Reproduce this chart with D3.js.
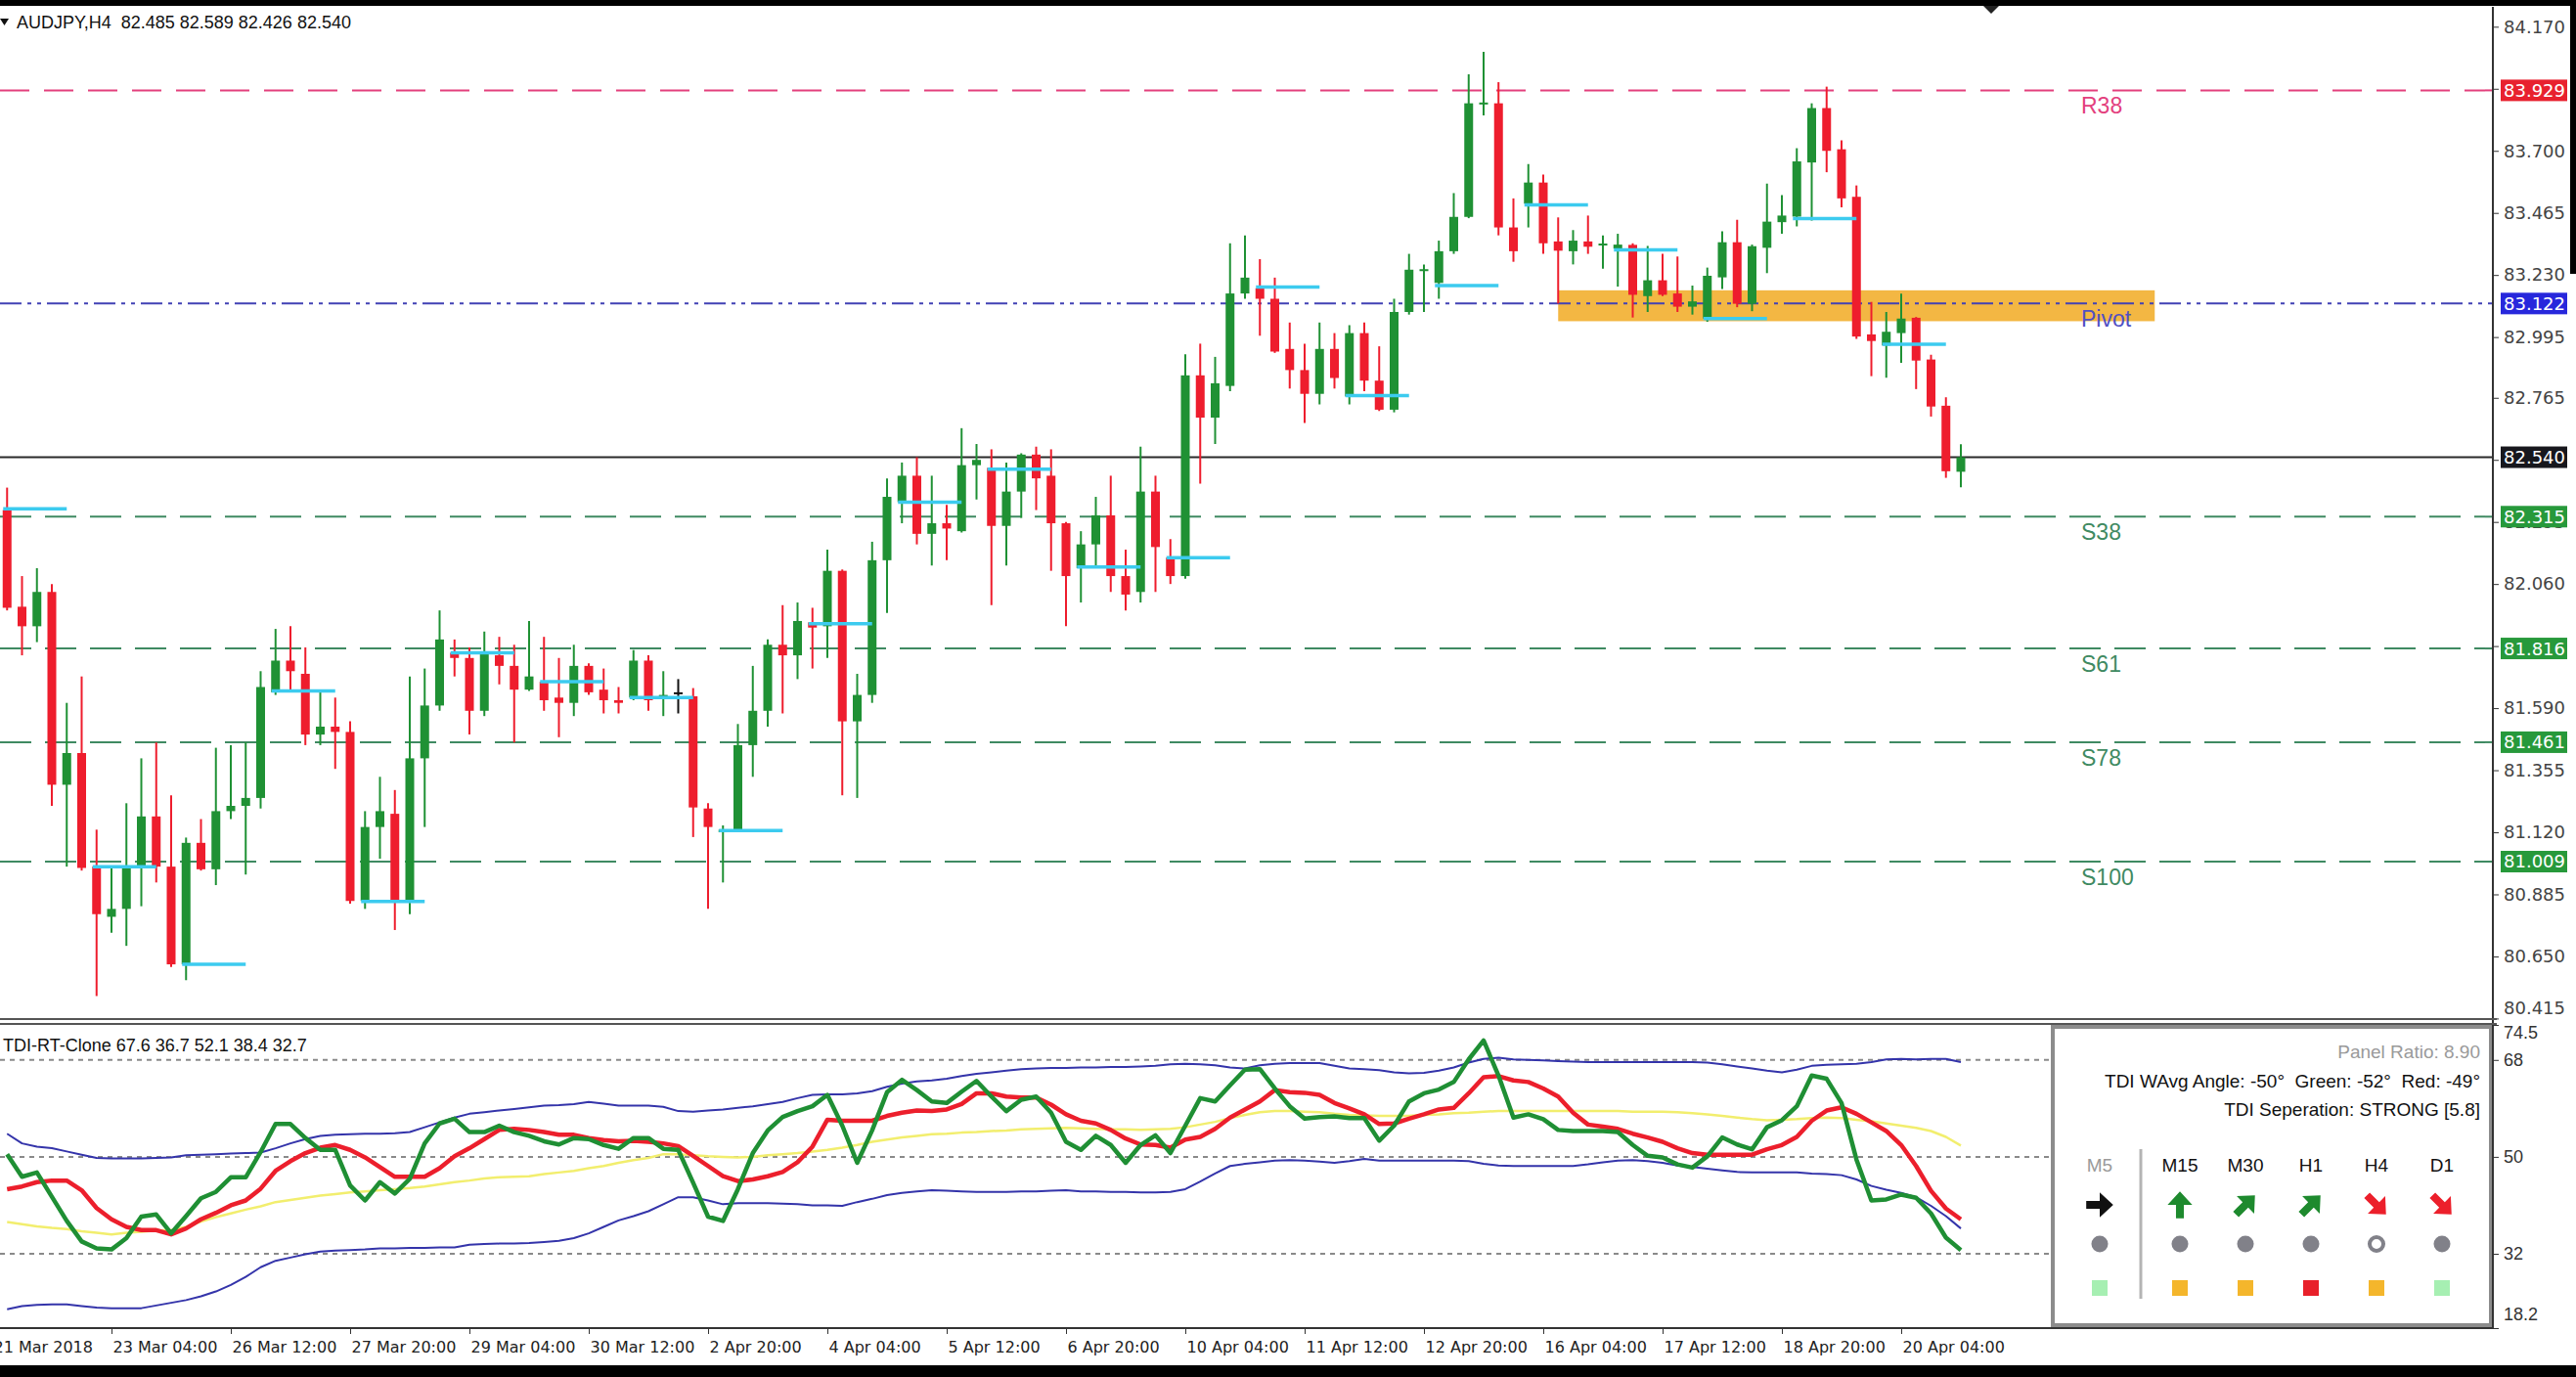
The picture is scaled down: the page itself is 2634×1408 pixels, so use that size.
<!DOCTYPE html>
<html>
<head>
<meta charset="utf-8">
<script src="https://cdn.jsdelivr.net/npm/d3@7"></script>
<style>
  body { margin: 0; background: #fff; }
  svg { display: block; }
  text { white-space: pre; }
</style>
</head>
<body>
<svg id="chart"></svg>
<script>
// AUDJPY H4 bars, first bar = 22 Mar 2018 00:00, last = 20 Apr 2018 20:00
const barOpen = [
  82.34, 81.974, 81.90, 82.03, 81.30, 81.42, 80.99, 80.80, 80.83, 80.99,
  81.18, 80.99, 80.62, 81.08, 80.98, 81.20, 81.22, 81.25, 81.65, 81.77,
  81.72, 81.49, 81.52, 81.50, 80.86, 81.14, 81.19, 80.86, 81.40, 81.60,
  81.80, 81.78, 81.58, 81.79, 81.75, 81.66, 81.69, 81.63, 81.61, 81.75,
  81.66, 81.62, 81.63, 81.77, 81.63, 81.65, 81.635, 81.21, 81.12, 81.13,
  81.45, 81.58, 81.83, 81.79, 81.915, 81.90, 82.11, 81.54, 81.64, 82.15,
  82.37, 82.47, 82.25, 82.29, 82.26, 82.51, 82.50, 82.28, 82.41, 82.55,
  82.47, 82.29, 82.12, 82.21, 82.32, 82.09, 82.03, 82.41, 82.16, 82.09,
  82.85, 82.69, 82.81, 83.16, 83.18, 83.14, 82.95, 82.87, 82.78, 82.95,
  82.77, 83.01, 82.83, 82.72, 83.09, 83.248, 83.20, 83.32, 83.45, 83.877,
  83.88, 83.41, 83.50, 83.58, 83.357, 83.32, 83.357, 83.344, 83.33, 83.344,
  83.15, 83.21, 83.16, 83.11, 83.065, 83.221, 83.354, 83.121, 83.333, 83.43,
  83.451, 83.656, 83.862, 83.706, 83.526, 83.005, 82.963, 83.01, 83.068, 82.91,
  82.735, 82.485
];
const barHigh = [
  82.425, 82.09, 82.12, 82.06, 81.61, 81.71, 81.13, 80.99, 81.23, 81.40,
  81.46, 81.26, 81.10, 81.17, 81.44, 81.45, 81.46, 81.73, 81.89, 81.90,
  81.82, 81.66, 81.63, 81.54, 81.20, 81.33, 81.28, 81.71, 81.74, 81.96,
  81.85, 81.82, 81.88, 81.86, 81.83, 81.92, 81.86, 81.78, 81.83, 81.76,
  81.74, 81.67, 81.81, 81.79, 81.73, 81.70, 81.666, 81.23, 81.146, 81.53,
  81.75, 81.85, 81.98, 81.99, 81.97, 82.19, 82.115, 81.72, 82.22, 82.46,
  82.52, 82.54, 82.47, 82.36, 82.65, 82.59, 82.57, 82.52, 82.555, 82.58,
  82.57, 82.295, 82.26, 82.39, 82.47, 82.19, 82.58, 82.47, 82.23, 82.93,
  82.97, 82.92, 83.35, 83.38, 83.29, 83.22, 83.05, 82.97, 83.05, 83.01,
  83.04, 83.05, 82.96, 83.14, 83.31, 83.27, 83.36, 83.54, 83.99, 84.075,
  83.96, 83.52, 83.65, 83.61, 83.448, 83.40, 83.455, 83.38, 83.386, 83.35,
  83.34, 83.31, 83.30, 83.19, 83.258, 83.395, 83.439, 83.345, 83.576, 83.532,
  83.71, 83.88, 83.943, 83.74, 83.569, 83.128, 83.09, 83.159, 83.071, 82.928,
  82.767, 82.589
];
const barLow = [
  81.96, 81.79, 81.84, 81.22, 80.99, 80.975, 80.50, 80.74, 80.69, 80.84,
  80.93, 80.61, 80.56, 80.975, 80.92, 81.17, 80.96, 81.21, 81.64, 81.66,
  81.45, 81.45, 81.36, 80.85, 80.83, 81.02, 80.75, 80.81, 81.14, 81.58,
  81.71, 81.49, 81.56, 81.68, 81.46, 81.655, 81.58, 81.48, 81.56, 81.64,
  81.57, 81.57, 81.62, 81.58, 81.56, 81.57, 81.102, 80.83, 80.93, 81.125,
  81.33, 81.52, 81.57, 81.70, 81.74, 81.78, 81.26, 81.25, 81.61, 81.95,
  82.29, 82.21, 82.13, 82.15, 82.255, 82.38, 81.98, 82.13, 82.31, 82.34,
  82.11, 81.90, 81.99, 82.12, 82.03, 81.96, 81.99, 82.03, 82.06, 82.08,
  82.44, 82.59, 82.79, 83.14, 83.00, 82.935, 82.80, 82.67, 82.74, 82.80,
  82.74, 82.79, 82.715, 82.71, 83.08, 83.09, 83.14, 83.31, 83.445, 83.834,
  83.38, 83.28, 83.41, 83.31, 83.122, 83.27, 83.31, 83.254, 83.186, 83.069,
  83.09, 83.15, 83.09, 83.08, 83.053, 83.177, 83.108, 83.093, 83.237, 83.386,
  83.414, 83.436, 83.619, 83.486, 82.988, 82.847, 82.841, 82.897, 82.798, 82.694,
  82.462, 82.426
];
const barClose = [
  81.97, 81.90, 82.03, 81.30, 81.42, 80.985, 80.81, 80.83, 80.99, 81.18,
  80.99, 80.62, 81.08, 80.98, 81.20, 81.22, 81.25, 81.67, 81.77, 81.73,
  81.49, 81.52, 81.50, 80.86, 81.14, 81.20, 80.86, 81.40, 81.60, 81.85,
  81.78, 81.58, 81.80, 81.75, 81.66, 81.71, 81.62, 81.61, 81.75, 81.65,
  81.62, 81.61, 81.77, 81.62, 81.64, 81.65, 81.214, 81.14, 81.13, 81.45,
  81.58, 81.83, 81.79, 81.92, 81.895, 82.11, 81.54, 81.64, 82.15, 82.39,
  82.47, 82.25, 82.29, 82.27, 82.51, 82.53, 82.28, 82.41, 82.55, 82.46,
  82.29, 82.09, 82.21, 82.32, 82.09, 82.02, 82.41, 82.20, 82.09, 82.85,
  82.69, 82.82, 83.16, 83.22, 83.14, 82.94, 82.87, 82.78, 82.95, 82.84,
  83.01, 82.83, 82.72, 83.09, 83.25, 83.252, 83.32, 83.45, 83.88, 83.883,
  83.41, 83.32, 83.58, 83.35, 83.322, 83.36, 83.337, 83.349, 83.345, 83.155,
  83.21, 83.155, 83.11, 83.13, 83.227, 83.354, 83.121, 83.339, 83.432, 83.455,
  83.66, 83.862, 83.70, 83.52, 82.997, 82.98, 83.015, 83.065, 82.906, 82.732,
  82.487, 82.540
];

// daily open marks (cyan), one per trading day, starting at bar 0
const dailyOpenStart = d3.range(0, 132, 6);
const dailyOpen = [
  82.345, 80.99, 80.62, 81.655, 80.858, 81.80, 81.69, 81.63, 81.127, 81.91,
  82.37, 82.495, 82.124, 82.16, 83.184, 82.773, 83.19, 83.495, 83.325, 83.065,
  83.444, 82.968
];

// pivot levels
const levelNames = ['R38', 'Pivot', 'S38', 'S61', 'S78', 'S100'];
const levelValues = [83.929, 83.122, 82.315, 81.816, 81.461, 81.009];

// supply/demand zone (bar from, bar to, price low, price high)
const zoneBars = [104, 144];
const zonePrices = [83.055, 83.172];

const priceTicks = [84.170, 83.935, 83.700, 83.465, 83.230, 82.995, 82.765, 82.530,
  82.295, 82.060, 81.825, 81.590, 81.355, 81.120, 80.885, 80.650, 80.415];

const timeTickBars = d3.range(-1, 132, 8);
const timeLabels = ['21 Mar 2018', '23 Mar 04:00', '26 Mar 12:00', '27 Mar 20:00', '29 Mar 04:00',
  '30 Mar 12:00', '2 Apr 20:00', '4 Apr 04:00', '5 Apr 12:00', '6 Apr 20:00', '10 Apr 04:00',
  '11 Apr 12:00', '12 Apr 20:00', '16 Apr 04:00', '17 Apr 12:00', '18 Apr 20:00', '20 Apr 04:00'];

// TDI indicator
const tdiGreen = [
  50.5, 46.3, 47.1, 42.6, 38.1, 34.3, 33.0, 32.8, 34.9, 38.9,
  39.3, 35.8, 39.0, 42.3, 43.5, 46.2, 46.2, 50.9, 56.1, 56.1,
  53.5, 51.3, 51.3, 44.7, 41.9, 45.3, 43.2, 45.9, 52.5, 56.2,
  57.1, 54.6, 54.6, 55.8, 54.6, 53.9, 52.9, 52.3, 53.5, 53.3,
  52.2, 51.5, 53.5, 53.5, 51.5, 51.3, 45.2, 38.9, 38.1, 44.0,
  50.7, 54.9, 57.4, 58.5, 59.4, 61.5, 55.8, 48.9, 54.9, 62.0,
  64.3, 62.4, 60.3, 60.0, 62.1, 64.1, 61.2, 58.5, 60.6, 61.2,
  58.2, 52.8, 51.3, 53.9, 52.2, 48.9, 52.2, 54.0, 50.7, 55.8,
  60.9, 60.3, 63.3, 66.2, 66.3, 62.7, 59.4, 57.1, 57.4, 57.5,
  57.2, 57.2, 53.0, 55.8, 60.3, 61.8, 62.5, 63.9, 68.1, 71.6,
  65.1, 57.3, 57.9, 57.0, 55.0, 54.8, 54.8, 54.8, 54.6, 52.2,
  50.2, 49.9, 48.6, 48.0, 50.1, 53.6, 52.3, 51.4, 55.5, 56.8,
  59.4, 65.1, 64.5, 60.0, 49.5, 41.9, 42.1, 43.0, 42.4, 39.5,
  35.0, 32.7
];
const tdiRed = [
  44.0, 44.5, 45.3, 45.6, 45.6, 43.8, 40.5, 38.4, 37.0, 36.4,
  36.4, 35.6, 36.7, 38.4, 39.6, 41.0, 41.9, 44.1, 47.4, 49.2,
  50.7, 51.7, 52.2, 51.3, 49.9, 48.1, 46.3, 46.3, 46.3, 47.9,
  50.1, 51.6, 53.3, 55.0, 55.2, 55.0, 54.6, 54.1, 54.1, 53.5,
  53.1, 52.9, 53.0, 52.8, 52.5, 52.0, 50.2, 48.3, 46.4, 45.5,
  45.8, 46.4, 47.2, 49.0, 51.9, 56.9, 56.7, 56.7, 56.7, 57.6,
  58.2, 58.6, 58.5, 58.8, 59.8, 61.8, 61.8, 61.2, 61.0, 61.0,
  59.7, 57.9, 56.7, 56.2, 55.0, 53.4, 52.3, 52.2, 51.7, 53.2,
  53.7, 55.2, 57.3, 58.8, 60.3, 62.4, 62.0, 61.9, 61.5, 60.0,
  59.0, 57.9, 56.1, 56.2, 57.1, 57.9, 58.8, 59.1, 61.8, 64.8,
  65.0, 64.2, 63.9, 62.7, 61.2, 58.2, 56.0, 55.6, 55.2, 54.3,
  53.6, 52.8, 51.6, 50.7, 50.4, 50.4, 50.4, 50.4, 51.4, 52.2,
  53.7, 56.7, 58.6, 59.2, 58.0, 56.4, 54.8, 52.2, 48.3, 43.7,
  40.4, 38.4
];
const tdiYellow = [
  37.9, 37.5, 37.1, 36.8, 36.6, 36.2, 35.9, 35.6, 35.9, 36.1,
  36.3, 36.4, 37.0, 38.0, 38.8, 39.5, 40.2, 40.8, 41.6, 42.0,
  42.4, 42.8, 43.1, 43.4, 43.6, 43.8, 44.0, 44.2, 44.5, 44.9,
  45.3, 45.6, 46.0, 46.2, 46.3, 46.4, 46.8, 47.1, 47.4, 47.9,
  48.3, 48.9, 49.4, 49.8, 50.5, 50.5, 50.3, 50.1, 50.0, 49.9,
  50.0, 50.3, 50.5, 50.7, 51.0, 51.3, 51.7, 52.2, 52.8, 53.2,
  53.6, 53.9, 54.2, 54.3, 54.5, 54.6, 54.8, 54.9, 55.1, 55.2,
  55.3, 55.4, 55.3, 55.2, 55.1, 55.1, 55.0, 55.1, 55.2, 55.5,
  56.0, 56.5, 57.2, 57.8, 58.3, 58.5, 58.5, 58.4, 58.3, 58.0,
  57.8, 57.7, 57.6, 57.6, 57.6, 57.8, 57.9, 58.1, 58.2, 58.4,
  58.5, 58.5, 58.5, 58.5, 58.5, 58.5, 58.5, 58.5, 58.5, 58.4,
  58.4, 58.4, 58.3, 58.1, 57.9, 57.6, 57.3, 57.0, 56.8, 56.9,
  57.0, 57.2, 57.3, 57.2, 56.9, 56.6, 56.2, 55.8, 55.4, 54.8,
  53.7, 52.1
];
const tdiUpper = [
  54.3, 52.5, 51.9, 51.6, 51.0, 50.4, 49.8, 49.7, 49.7, 49.7,
  49.8, 49.9, 50.3, 50.4, 50.5, 50.6, 50.7, 50.8, 51.6, 52.5,
  53.3, 53.9, 54.1, 54.2, 54.3, 54.3, 54.4, 54.6, 55.5, 56.4,
  57.3, 58.0, 58.3, 58.6, 58.9, 59.2, 59.5, 59.6, 59.8, 60.2,
  59.9, 59.5, 59.5, 59.5, 59.3, 58.5, 58.4, 58.6, 58.8, 59.1,
  59.4, 59.8, 60.2, 60.9, 61.5, 61.6, 61.6, 61.8, 62.2, 63.0,
  63.6, 64.0, 64.2, 64.5, 65.0, 65.4, 65.7, 66.0, 66.3, 66.4,
  66.5, 66.5, 66.6, 66.6, 66.7, 66.7, 66.8, 66.9, 67.2, 67.3,
  67.2, 67.0, 66.6, 66.4, 67.0, 67.3, 67.4, 67.4, 67.4, 66.9,
  66.4, 66.3, 66.1, 65.7, 65.5, 65.6, 66.0, 66.6, 67.5, 68.2,
  68.4, 68.1, 68.0, 67.9, 67.8, 67.7, 67.6, 67.6, 67.6, 67.6,
  67.6, 67.6, 67.6, 67.6, 67.5, 67.2, 66.8, 66.4, 66.0, 65.7,
  66.2, 66.9, 67.1, 67.2, 67.3, 67.6, 68.1, 68.2, 68.1, 68.2,
  68.2, 67.6
];
const tdiLower = [
  21.7, 22.3, 22.5, 22.6, 22.6, 22.3, 22.0, 21.9, 21.9, 21.9,
  22.4, 22.9, 23.4, 24.1, 25.0, 26.2, 27.7, 29.5, 30.7, 31.3,
  31.9, 32.4, 32.6, 32.7, 32.8, 33.0, 33.0, 33.1, 33.1, 33.2,
  33.2, 33.7, 33.8, 33.9, 33.9, 34.0, 34.2, 34.4, 34.9, 35.8,
  37.0, 38.2, 39.0, 39.9, 41.2, 42.5, 42.5, 41.9, 41.2, 41.4,
  41.4, 41.4, 41.3, 41.2, 41.0, 41.0, 40.9, 41.6, 42.2, 42.9,
  43.3, 43.6, 43.8, 43.7, 43.6, 43.5, 43.5, 43.5, 43.6, 43.6,
  43.7, 43.8, 43.6, 43.6, 43.5, 43.5, 43.4, 43.4, 43.5, 44.0,
  45.4, 46.9, 48.3, 48.7, 49.0, 49.3, 49.4, 49.3, 49.1, 48.9,
  49.2, 49.6, 49.3, 49.3, 49.3, 49.3, 49.3, 49.3, 49.2, 48.7,
  48.4, 48.3, 48.3, 48.3, 48.3, 48.3, 48.6, 49.0, 49.3, 49.4,
  49.2, 48.9, 48.4, 48.1, 47.8, 47.5, 47.2, 47.1, 47.1, 47.1,
  47.1, 46.9, 46.8, 46.6, 45.8, 44.6, 43.9, 43.3, 42.5, 40.9,
  39.0, 36.7
];
const tdiLevels = [68, 50, 32];
const tdiAxisTicks = [74.5, 68, 50, 32, 18.2];

// multi-timeframe panel
const tfNames = ['M5', 'M15', 'M30', 'H1', 'H4', 'D1'];
const tfArrowDir = [0, -90, -45, -45, 45, 45];
const tfArrowColor = ['#111', '#1e8a2e', '#1e8a2e', '#1e8a2e', '#ec1f2b', '#ec1f2b'];
const tfDotHollow = [false, false, false, false, true, false];
const tfBoxColor = ['#a6efb2', '#f4b62c', '#f4b62c', '#e8202a', '#f4b62c', '#a6efb2'];

const W = 2634, H = 1408;
const axisX = 2549, mainTop = 7, mainBottom = 1042, indTop = 1048, indBottom = 1358;

const svg = d3.select('#chart').attr('width', W).attr('height', H)
  .style('font-family', '"Liberation Sans", Arial, sans-serif');
svg.append('rect').attr('width', W).attr('height', H).attr('fill', '#fff');

const x = d3.scaleLinear().domain([0, 131]).range([7.25, 2005]);
const y = d3.scaleLinear().domain([81.009, 83.929]).range([881, 92.4]);
const yInd = d3.scaleLinear().domain([18.2, 74.5]).range([indBottom, indTop]);
const fmt3 = d3.format('.3f');

const defs = svg.append('defs');
defs.append('clipPath').attr('id', 'clipMain').append('rect')
  .attr('x', 0).attr('y', mainTop).attr('width', axisX).attr('height', mainBottom - mainTop);
defs.append('clipPath').attr('id', 'clipInd').append('rect')
  .attr('x', 0).attr('y', indTop).attr('width', axisX).attr('height', indBottom - indTop);

// ---- main window ----
const main = svg.append('g').attr('clip-path', 'url(#clipMain)');

main.append('rect')
  .attr('x', x(zoneBars[0])).attr('width', x(zoneBars[1]) - x(zoneBars[0]))
  .attr('y', y(zonePrices[1])).attr('height', y(zonePrices[0]) - y(zonePrices[1]))
  .attr('fill', '#f3b743');

const levelColor = n => n === 'R38' ? '#e3407d' : n === 'Pivot' ? '#4242b4' : '#3f8a62';
const levelDash = n => n === 'R38' ? '30 15' : n === 'Pivot' ? '22 6 4 6 4 6' : '32 14';
const levels = levelNames.map((n, i) => ({ name: n, value: levelValues[i] }));

main.selectAll('line.level').data(levels).join('line')
  .attr('x1', 0).attr('x2', axisX)
  .attr('y1', d => y(d.value)).attr('y2', d => y(d.value))
  .attr('stroke', d => levelColor(d.name))
  .attr('stroke-width', 2)
  .attr('stroke-dasharray', d => levelDash(d.name));

main.selectAll('text.level').data(levels).join('text')
  .attr('x', 2128).attr('y', d => y(d.value) + 24)
  .attr('font-size', 23)
  .attr('fill', d => d.name === 'Pivot' ? '#5050c4' : levelColor(d.name))
  .text(d => d.name);

const lastClose = barClose[barClose.length - 1];
main.append('line')
  .attr('x1', 0).attr('x2', axisX)
  .attr('y1', y(lastClose)).attr('y2', y(lastClose))
  .attr('stroke', '#2a2a2a').attr('stroke-width', 2);

const bars = barOpen.map((o, k) => ({ k, o, h: barHigh[k], l: barLow[k], c: barClose[k] }));
const candleColor = d => d.c > d.o ? '#1f9134' : d.c < d.o ? '#ee1d2d' : '#111';

main.append('g').selectAll('line').data(bars).join('line')
  .attr('x1', d => x(d.k)).attr('x2', d => x(d.k))
  .attr('y1', d => y(d.h)).attr('y2', d => y(d.l))
  .attr('stroke', candleColor).attr('stroke-width', 2);

main.append('g').selectAll('rect').data(bars).join('rect')
  .attr('x', d => x(d.k) - 4.5).attr('width', 9)
  .attr('y', d => y(Math.max(d.o, d.c)))
  .attr('height', d => Math.max(2, Math.abs(y(d.o) - y(d.c))))
  .attr('fill', candleColor);

main.append('g').selectAll('line').data(dailyOpen).join('line')
  .attr('x1', (d, i) => x(dailyOpenStart[i]) - 4)
  .attr('x2', (d, i) => x(Math.min(dailyOpenStart[i] + 4, 131)))
  .attr('y1', d => y(d)).attr('y2', d => y(d))
  .attr('stroke', '#3ccbef').attr('stroke-width', 3.5);

// header
svg.append('path').attr('d', 'M0,19 L9,19 L4.5,26 Z').attr('fill', '#111');
const lb = bars[bars.length - 1];
svg.append('text').attr('x', 17).attr('y', 29).attr('font-size', 18).attr('fill', '#111')
  .text(`AUDJPY,H4  ${fmt3(lb.o)} ${fmt3(lb.h)} ${fmt3(lb.l)} ${fmt3(lb.c)}`);

// ---- price axis ----
const pAxis = svg.append('g').attr('transform', `translate(${axisX},0)`)
  .call(d3.axisRight(y).tickValues(priceTicks).tickFormat(fmt3).tickSize(6).tickPadding(5));
pAxis.select('.domain').remove();
pAxis.selectAll('line').attr('stroke', '#333');
pAxis.selectAll('text').attr('font-size', 18).attr('fill', '#444')
  .style('font-family', '"DejaVu Sans", sans-serif')
  .attr('y', d => Math.min(0, 1031 - y(d)));

const boxes = levels.map(d => ({
  value: d.value,
  color: d.name === 'R38' ? '#e8212e' : d.name === 'Pivot' ? '#2727dc' : '#27993b'
}));
boxes.push({ value: lastClose, color: '#17171d' });
const boxG = svg.append('g').selectAll('g').data(boxes).join('g')
  .attr('transform', d => `translate(2557,${y(d.value)})`);
boxG.append('rect').attr('x', 0).attr('y', -11).attr('width', 68).attr('height', 22)
  .attr('fill', d => d.color);
boxG.append('text').attr('x', 3).attr('y', 0).attr('dy', '0.36em')
  .attr('font-size', 18).attr('fill', '#fff')
  .style('font-family', '"DejaVu Sans", sans-serif')
  .text(d => fmt3(d.value));

// ---- TDI window ----
const ind = svg.append('g').attr('clip-path', 'url(#clipInd)');
ind.selectAll('line').data(tdiLevels).join('line')
  .attr('x1', 0).attr('x2', axisX)
  .attr('y1', d => yInd(d)).attr('y2', d => yInd(d))
  .attr('stroke', '#8a8a8a').attr('stroke-width', 2).attr('stroke-dasharray', '5 5');

const tdiLine = d3.line().x((d, k) => x(k)).y(d => yInd(d));
const tdiSeries = [
  [tdiUpper, '#3434aa', 2],
  [tdiLower, '#3434aa', 2],
  [tdiYellow, '#f2ee6e', 2.5],
  [tdiRed, '#ec1f2c', 4.5],
  [tdiGreen, '#1f8f34', 4.5]
];
tdiSeries.forEach(([vals, color, w]) => {
  ind.append('path').datum(vals)
    .attr('d', tdiLine)
    .attr('fill', 'none').attr('stroke', color).attr('stroke-width', w)
    .attr('stroke-linejoin', 'round');
});

const lastOf = a => a[a.length - 1];
svg.append('text').attr('x', 3).attr('y', 1075).attr('font-size', 18).attr('fill', '#111')
  .text(`TDI-RT-Clone ${lastOf(tdiUpper)} ${lastOf(tdiLower)} ${lastOf(tdiYellow)} ${lastOf(tdiRed)} ${lastOf(tdiGreen)}`);

const iAxis = svg.append('g').attr('transform', `translate(${axisX},0)`)
  .call(d3.axisRight(yInd).tickValues(tdiAxisTicks).tickFormat(d => d).tickSize(6).tickPadding(5));
iAxis.select('.domain').remove();
iAxis.selectAll('line').attr('stroke', '#333');
iAxis.selectAll('text').attr('font-size', 18).attr('fill', '#333')
  .attr('y', d => {
    const yy = yInd(d);
    if (yy < indTop + 8) return indTop + 8 - yy;
    if (yy > indBottom - 14) return indBottom - 14 - yy;
    return 0;
  });

// ---- panel ----
const panel = svg.append('g');
panel.append('rect').attr('x', 2099).attr('y', 1050).attr('width', 448).attr('height', 305)
  .attr('fill', '#fff').attr('stroke', '#8c8c8c').attr('stroke-width', 4);
panel.append('text').attr('x', 2536).attr('y', 1082).attr('text-anchor', 'end')
  .attr('font-size', 19).attr('fill', '#9a9a9a').text('Panel Ratio: 8.90');
panel.append('text').attr('x', 2536).attr('y', 1112).attr('text-anchor', 'end')
  .attr('font-size', 19).attr('fill', '#111').text('TDI WAvg Angle: -50°  Green: -52°  Red: -49°');
panel.append('text').attr('x', 2536).attr('y', 1141).attr('text-anchor', 'end')
  .attr('font-size', 19).attr('fill', '#111').text('TDI Seperation: STRONG [5.8]');

const colX = d3.scalePoint().domain(tfNames.slice(1)).range([2229, 2497]);
const cx = n => n === 'M5' ? 2147 : colX(n);
panel.append('line').attr('x1', 2189).attr('x2', 2189).attr('y1', 1175).attr('y2', 1328)
  .attr('stroke', '#b4b4b4').attr('stroke-width', 3);

const tf = tfNames.map((n, i) => ({ n, dir: tfArrowDir[i], ac: tfArrowColor[i], hollow: tfDotHollow[i], box: tfBoxColor[i] }));
const col = panel.selectAll('g.tf').data(tf).join('g').attr('transform', d => `translate(${cx(d.n)},0)`);
col.append('text').attr('y', 1198).attr('text-anchor', 'middle').attr('font-size', 19)
  .attr('fill', d => d.n === 'M5' ? '#9a9a9a' : '#111').text(d => d.n);
col.append('path')
  .attr('d', 'M-12,-3.5 L0,-3.5 L0,-11 L12,0 L0,11 L0,3.5 L-12,3.5 Z')
  .attr('transform', d => `translate(0,1232) rotate(${d.dir}) scale(1.15)`)
  .attr('fill', d => d.ac);
col.append('circle').attr('cy', 1272)
  .attr('r', d => d.hollow ? 7 : 8.5)
  .attr('fill', d => d.hollow ? '#fff' : '#818189')
  .attr('stroke', d => d.hollow ? '#818189' : 'none').attr('stroke-width', 4);
col.append('rect').attr('x', -8).attr('y', 1309).attr('width', 16).attr('height', 16)
  .attr('fill', d => d.box);

// ---- frames ----
svg.append('line').attr('x1', axisX).attr('x2', axisX).attr('y1', mainTop).attr('y2', indBottom)
  .attr('stroke', '#333').attr('stroke-width', 2);
[mainBottom, indTop - 1].forEach(yy => {
  svg.append('line').attr('x1', 0).attr('x2', axisX + 4).attr('y1', yy).attr('y2', yy)
    .attr('stroke', '#555').attr('stroke-width', 2);
});

// ---- time axis ----
const tAxis = svg.append('g').attr('transform', `translate(0,${indBottom})`)
  .call(d3.axisBottom(x).tickValues(timeTickBars).tickFormat((d, i) => timeLabels[i]).tickSize(6).tickPadding(8));
tAxis.select('.domain').attr('d', `M0,0H${axisX}`).attr('stroke', '#333').attr('stroke-width', 2);
tAxis.selectAll('line').attr('stroke', '#333');
tAxis.selectAll('text').attr('text-anchor', 'start').attr('x', 1)
  .attr('font-size', 16).attr('fill', '#222')
  .style('font-family', '"DejaVu Sans", sans-serif');

// screen edges
svg.append('rect').attr('x', 0).attr('y', 0).attr('width', W).attr('height', mainTop - 1).attr('fill', '#000');
svg.append('rect').attr('x', W - 6).attr('y', 0).attr('width', 6).attr('height', 280).attr('fill', '#000');
svg.append('rect').attr('x', 0).attr('y', 1396).attr('width', W).attr('height', H - 1396).attr('fill', '#000');
svg.append('path').attr('d', 'M2028,6 L2044,6 L2036,14 Z').attr('fill', '#222');
</script>
</body>
</html>
